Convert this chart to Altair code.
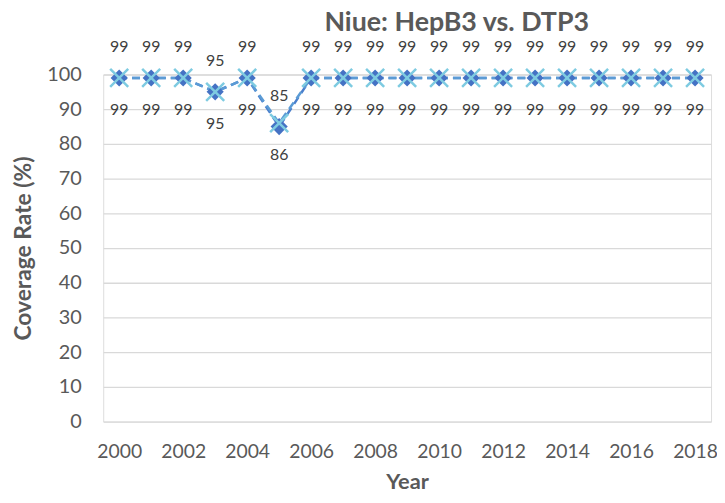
import altair as alt
import pandas as pd

years = list(range(2000, 2019))
hepb3 = [99, 99, 99, 95, 99, 85, 99, 99, 99, 99, 99, 99, 99, 99, 99, 99, 99, 99, 99]
dtp3 = [99, 99, 99, 95, 99, 86, 99, 99, 99, 99, 99, 99, 99, 99, 99, 99, 99, 99, 99]
tick_years = list(range(2000, 2019, 2))
y_ticks = list(range(0, 101, 10))

df = pd.DataFrame({"Year": years, "HepB3": hepb3, "DTP3": dtp3})
# line table split in two pieces (so that both dashed lines stay in phase)
seg_a = df[df["Year"] <= 2006].assign(seg="a")
seg_b = df[df["Year"] >= 2006].assign(seg="b")
df_lines = pd.concat([seg_a, seg_b], ignore_index=True)

FONT = "Lato"
GREY = "#595959"

x_enc = alt.X(
    "Year:O",
    scale=alt.Scale(type="point", padding=0.5),
    axis=alt.Axis(
        values=tick_years, labelAngle=0, title="Year", grid=False, domain=False,
        ticks=False, tickSize=0, labelPadding=21, labelFontSize=19.5, labelColor=GREY,
        labelFont=FONT, titleFont=FONT, titleFontSize=22, titleColor=GREY,
        titleFontWeight="bold", titleY=61, titleBaseline="middle",
    ),
)

def y_enc(field):
    return alt.Y(
        f"{field}:Q",
        scale=alt.Scale(domain=[0, 100], nice=False),
        axis=alt.Axis(
            values=y_ticks, title="Coverage Rate (%)", grid=True, gridColor="#D9D9D9",
            gridWidth=1.3, domain=False, ticks=False, tickSize=0, labelPadding=22,
            labelFontSize=20, labelColor=GREY, labelFont=FONT, titleFont=FONT,
            titleFontSize=23, titleColor=GREY, titleFontWeight="bold",
            titleX=-80, titleY=175, titleBaseline="middle", titleAngle=-90,
        ),
    )

base = alt.Chart(df)
lbase = alt.Chart(df_lines)

line_h = lbase.mark_line(color="#4A7FCC", strokeWidth=2.5, strokeDash=[8, 5]).encode(
    x=x_enc, y=y_enc("HepB3"), detail="seg:N"
)
line_d = lbase.mark_line(color="#5B9BD5", strokeWidth=2.5, strokeDash=[8, 5]).encode(
    x=x_enc, y=y_enc("DTP3"), detail="seg:N"
)
pts_h = base.mark_point(shape="diamond", filled=True, color="#4472C4", size=300, opacity=1).encode(
    x=x_enc, y=y_enc("HepB3")
)
pts_d = base.mark_point(
    shape="M-1,-1L1,1M1,-1L-1,1", filled=False, color="#7ECBE1", size=330,
    strokeWidth=2.5, opacity=1,
).encode(x=x_enc, y=y_enc("DTP3"))

lab_h = base.mark_text(dy=-31, fontSize=16, color="#404040", font=FONT, baseline="middle").encode(
    x=x_enc, y=y_enc("HepB3"), text="HepB3:Q"
)
lab_d = base.mark_text(dy=32, fontSize=16, color="#404040", font=FONT, baseline="middle").encode(
    x=x_enc, y=y_enc("DTP3"), text="DTP3:Q"
)

chart = (
    alt.layer(line_h, line_d, pts_h, pts_d, lab_h, lab_d)
    .properties(
        width=613,
        height=350,
        autosize=alt.AutoSizeParams(type="none"),
        padding={"left": 96, "top": 65, "right": 6, "bottom": 72},
        title=alt.TitleParams(
            "Niue: HepB3 vs. DTP3", font=FONT, fontSize=27, fontWeight="bold",
            color=GREY, anchor="middle", frame="group", dx=50, offset=2,
        ),
    )
    .configure_view(strokeWidth=0, stroke="transparent")
    .configure(background="white")
)

chart.save("out.html", embed_options={"renderer": "svg", "actions": False})
